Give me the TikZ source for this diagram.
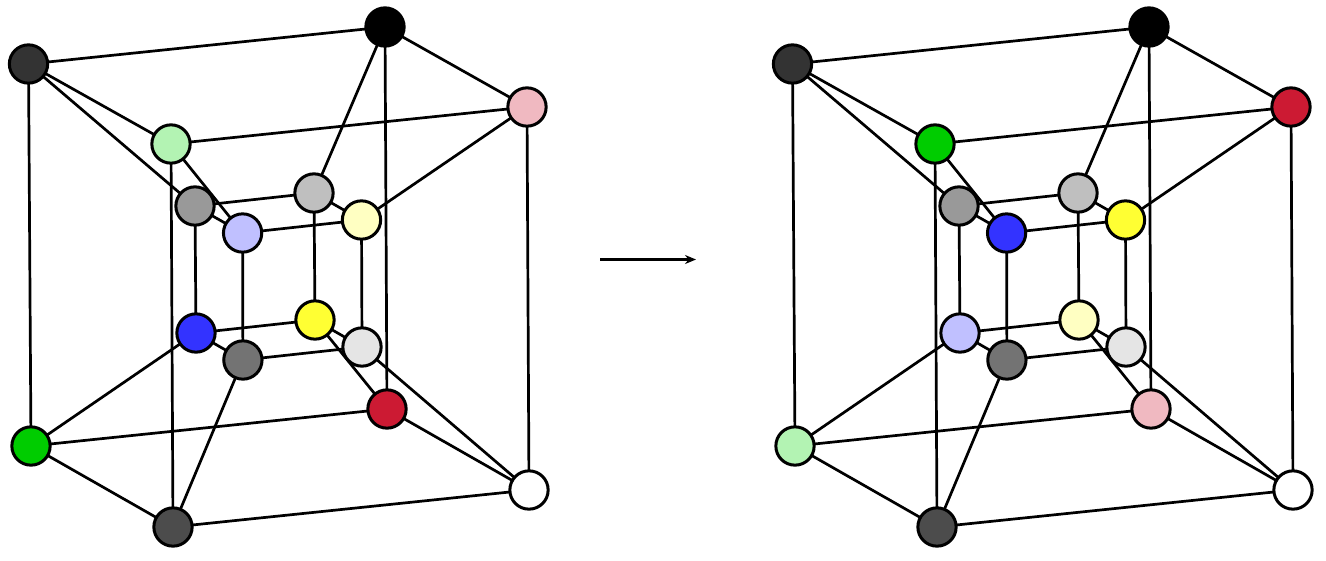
\documentclass[tikz,border=0pt]{standalone}
\usetikzlibrary{arrows.meta,backgrounds}
\definecolor{vPaleGreen}{HTML}{B3F3B3}
\definecolor{vGreen}{HTML}{00CC00}
\definecolor{vPink}{HTML}{F0B9C1}
\definecolor{vRed}{HTML}{CC1A33}
\definecolor{vPaleBlue}{HTML}{C0C0FF}
\definecolor{vBlue}{HTML}{3333FF}
\definecolor{vPaleYellow}{HTML}{FFFFC2}
\definecolor{vYellow}{HTML}{FFFF33}
\tikzset{
  vertex/.style={circle,draw=black,line width=3pt,minimum size=38.3pt,inner sep=0pt,outer sep=0pt},
  edgeline/.style={draw=black,line width=2.7pt},
  mainarrow/.style={draw=black,line width=3.8pt,-{Stealth[length=11pt,width=9pt]}}
}
% #1 = name prefix, #2 = horizontal shift
\newcommand{\tesseract}[2]{%
  \begin{scope}[xshift=#2]
    \node[vertex,fill=black!80] (#1a) at (28.5,64) {};
    \node[vertex,fill=black] (#1b) at (385,27) {};
    \node[vertex,fill=cPink] (#1c) at (527,107) {};
    \node[vertex,fill=cPaleGreen] (#1d) at (171,144) {};
    \node[vertex,fill=black!40] (#1e) at (195,206) {};
    \node[vertex,fill=black!25] (#1f) at (314,193) {};
    \node[vertex,fill=cPaleBlue] (#1g) at (242.6,233) {};
    \node[vertex,fill=cPaleYellow] (#1h) at (361.5,220) {};
    \node[vertex,fill=cBlue] (#1i) at (196,333) {};
    \node[vertex,fill=cYellow] (#1j) at (315,320) {};
    \node[vertex,fill=black!55] (#1k) at (242.9,360) {};
    \node[vertex,fill=black!10] (#1l) at (362,347) {};
    \node[vertex,fill=cGreen] (#1m) at (31,446) {};
    \node[vertex,fill=cRed] (#1n) at (387,409) {};
    \node[vertex,fill=black!70] (#1o) at (173,527) {};
    \node[vertex,fill=white] (#1p) at (529,490) {};
    \begin{pgfonlayer}{background}
      \foreach \u/\v in {a/b,b/c,c/d,d/a,a/m,b/n,c/p,d/o,m/n,n/p,p/o,o/m,
                         e/f,f/h,h/g,g/e,e/i,f/j,g/k,h/l,i/j,j/l,l/k,k/i,
                         a/e,b/f,c/h,d/g,m/i,n/j,p/l,o/k}
        \draw[edgeline] (#1\u) -- (#1\v);
    \end{pgfonlayer}
  \end{scope}
}
\begin{document}
\begin{tikzpicture}[x=1pt,y=-1pt]
  \useasboundingbox (0,0) rectangle (1326,560);
  \colorlet{cPink}{vPink}\colorlet{cPaleGreen}{vPaleGreen}
  \colorlet{cPaleBlue}{vPaleBlue}\colorlet{cPaleYellow}{vPaleYellow}
  \colorlet{cBlue}{vBlue}\colorlet{cYellow}{vYellow}
  \colorlet{cGreen}{vGreen}\colorlet{cRed}{vRed}
  \tesseract{L}{0pt}
  \colorlet{cPink}{vRed}\colorlet{cPaleGreen}{vGreen}
  \colorlet{cPaleBlue}{vBlue}\colorlet{cPaleYellow}{vYellow}
  \colorlet{cBlue}{vPaleBlue}\colorlet{cYellow}{vPaleYellow}
  \colorlet{cGreen}{vPaleGreen}\colorlet{cRed}{vPink}
  \tesseract{R}{764pt}
  \coordinate (arrowstart) at (600,259.5);
  \coordinate (arrowend) at (696,259.5);
  \draw[mainarrow] (arrowstart) -- (arrowend);
\end{tikzpicture}
\end{document}
